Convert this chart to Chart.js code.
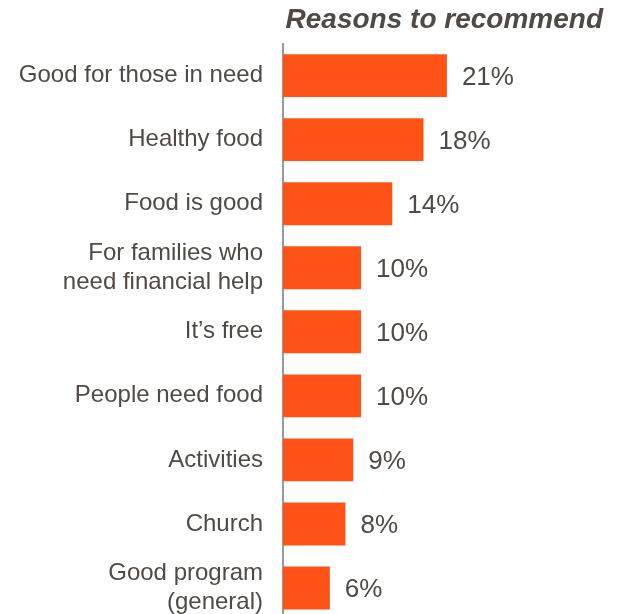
<!DOCTYPE html>
<html>
<head>
<meta charset="utf-8">
<script src="https://cdn.jsdelivr.net/npm/chart.js@4"></script>
<style>
  html, body { margin: 0; padding: 0; background: #fff; overflow: hidden; }
  #wrap { width: 619px; height: 620px; position: relative; }
</style>
</head>
<body>
<div id="wrap"><canvas id="reasons"></canvas></div>
<script>
'use strict';
const reasons = [
    'Good for those in need',
    'Healthy food',
    'Food is good',
    ['For families who', 'need financial help'],
    'It\u2019s free',
    'People need food',
    'Activities',
    'Church',
    ['Good program', '(general)']
];
const percents = [21, 18, 14, 10, 10, 10, 9, 8, 6];

const textColor = '#4f4a45';
const font = 'Liberation Sans, Arial, sans-serif';

// writes "NN%" just past the end of each bar
const valueLabels = {
    id: 'valueLabels',
    afterDatasetsDraw(chart) {
        const { ctx } = chart;
        const meta = chart.getDatasetMeta(0);
        ctx.save();
        ctx.font = '26px ' + font;
        ctx.fillStyle = textColor;
        ctx.textAlign = 'left';
        ctx.textBaseline = 'middle';
        meta.data.forEach((bar, i) => {
            ctx.fillText(percents[i] + '%', bar.x + 15, bar.y + 2);
        });
        ctx.restore();
    }
};

new Chart(document.getElementById('reasons'), {
    type: 'bar',
    data: {
        labels: reasons,
        datasets: [{
            data: percents,
            backgroundColor: '#fe5217',
            barPercentage: 0.67,
            categoryPercentage: 1
        }]
    },
    options: {
        indexAxis: 'y',
        responsive: true,
        maintainAspectRatio: false,
        animation: false,
        layout: { padding: { left: 0, right: 16, top: 0, bottom: 0 } },
        plugins: {
            legend: { display: false },
            tooltip: { enabled: false },
            title: {
                display: true,
                text: 'Reasons to recommend',
                align: 'end',
                color: textColor,
                font: { family: font, size: 28, weight: 'bold', style: 'italic', lineHeight: 1.2 },
                padding: { top: 3, bottom: 7 }
            }
        },
        scales: {
            x: { display: false, min: 0, max: 41 },
            y: {
                afterFit(scale) {
                    // keep the bands spanning the full height, labels may overflow
                    scale.width = 283;
                    scale.paddingTop = 0;
                    scale.paddingBottom = 0;
                },
                grid: { display: false },
                border: { display: true, color: '#999999', width: 2 },
                ticks: {
                    color: textColor,
                    padding: 12,
                    font: { family: font, size: 24, lineHeight: 1.2 }
                }
            }
        }
    },
    plugins: [valueLabels]
});
</script>
</body>
</html>
